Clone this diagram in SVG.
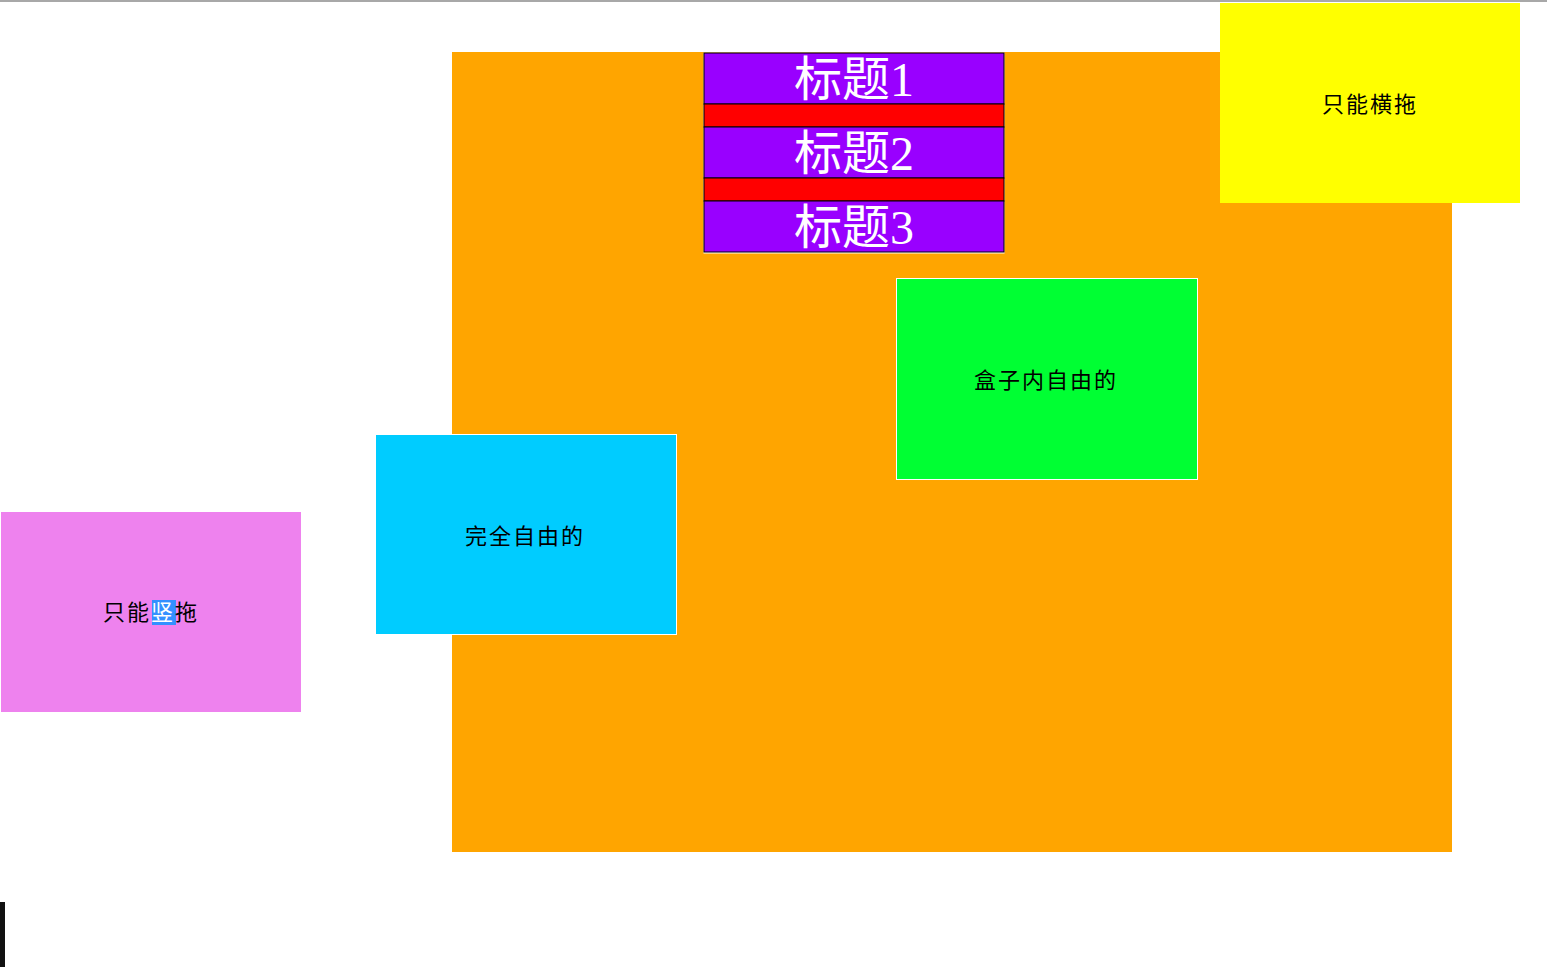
<svg xmlns="http://www.w3.org/2000/svg" width="1547" height="967" viewBox="0 0 1547 967">
<style>
.lbl{font-family:"Liberation Serif","Noto Sans CJK SC",serif;font-size:22px;letter-spacing:2px;fill:#000}
.ttl{font-family:"Liberation Serif","Noto Sans CJK SC",serif;font-size:48px;fill:#fff;text-anchor:middle}
.row{fill:#9900ff;stroke:#000;stroke-width:1}
.sep{fill:#ff0000;stroke:#000;stroke-width:1}
.box{stroke:#fff;stroke-width:1}
</style>
<rect x="0" y="0" width="1547" height="967" fill="#fff"/>
<rect x="0" y="0" width="1547" height="2" fill="#a8a8a8"/>
<g id="container">
<rect x="452" y="52" width="1000" height="800" fill="#ffa500"/>
</g>
<g id="titles">
<rect x="703.5" y="52.5" width="301" height="201" fill="#fff"/>
<rect class="row" x="704" y="53" width="300" height="51"/>
<rect class="sep" x="704" y="104" width="300" height="23"/>
<rect class="row" x="704" y="127" width="300" height="51"/>
<rect class="sep" x="704" y="178" width="300" height="23"/>
<rect class="row" x="704" y="201" width="300" height="51"/>
<text class="ttl" x="854" y="96">标题1</text>
<text class="ttl" x="854" y="170">标题2</text>
<text class="ttl" x="854" y="244">标题3</text>
</g>
<g id="horizontal">
<rect x="1220" y="3" width="300" height="200" fill="#ffff00"/>
<text class="lbl" x="1322" y="112">只能横拖</text>
</g>
<g id="inbox">
<rect class="box" x="896.5" y="278.5" width="301" height="201" fill="#00ff33"/>
<text class="lbl" x="974" y="388">盒子内自由的</text>
</g>
<g id="free">
<rect class="box" x="375.5" y="434.5" width="301" height="200" fill="#00ccff"/>
<text class="lbl" x="465" y="544">完全自由的</text>
</g>
<g id="vertical">
<rect x="1" y="512" width="300" height="200" fill="#ee82ee"/>
<rect x="152" y="600" width="24" height="25" fill="#3390ff"/>
<text class="lbl" x="103" y="620">只能<tspan fill="#fff">竖</tspan>拖</text>
</g>
<rect x="0" y="902" width="5" height="65" fill="#111"/>
</svg>
